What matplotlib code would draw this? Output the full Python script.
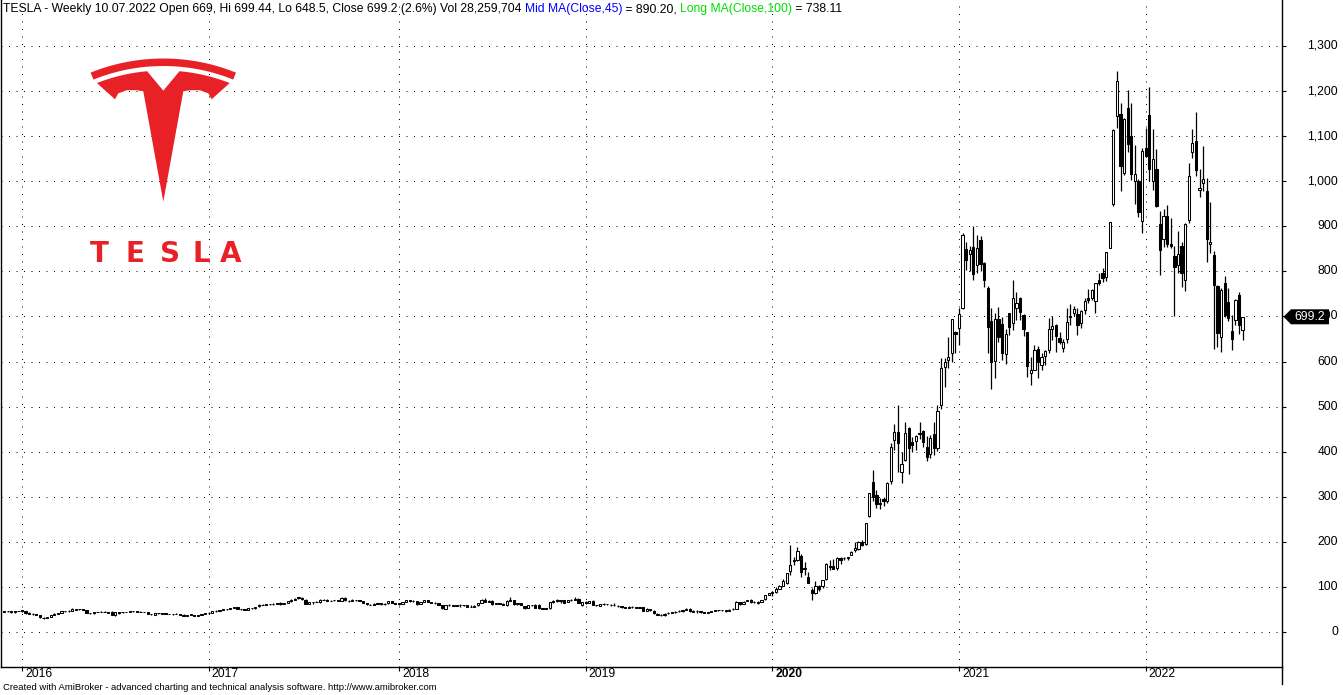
import matplotlib
matplotlib.use('Agg')
import matplotlib.pyplot as plt
import matplotlib.dates as mdates
import matplotlib.transforms as mtransforms
from matplotlib import font_manager
from matplotlib.patches import Polygon
import numpy as np
import pandas as pd

# weekly TSLA bars, dated by week end (Sunday); last bar 10.07.2022
last_bar = '2022-07-10'

opens = [
    # 2015
    44.0, 46.4, 45.8, 43.6, 46.1,
    # 2016
    46.2, 46.1, 42.4, 40.2, 40.5, 37.6, 32.0, 31.2, 33.0, 38.3, 40.0, 41.8, 46.4, 45.8, 47.5, 49.4, 51.0, 50.7,
    48.4, 42.3, 41.6, 44.2, 44.8, 44.0, 43.6, 43.8, 38.0, 42.0, 43.6, 44.0, 44.6, 47.0, 46.0, 44.9, 45.0, 43.8,
    40.0, 38.6, 41.2, 42.6, 42.0, 39.4, 39.4, 40.2, 39.6, 38.4, 36.4, 37.2, 38.6, 36.4, 38.6, 40.4, 42.6,
    # 2017
    43.0, 45.8, 47.6, 49.0, 50.2, 50.4, 54.0, 54.4, 50.8, 50.0, 49.0, 52.4, 52.2, 56.8, 60.4, 61.0, 61.4, 62.8,
    61.8, 64.8, 62.4, 65.2, 68.2, 71.0, 74.6, 76.4, 72.0, 63.2, 65.6, 66.0, 67.0, 71.4, 72.0, 69.6, 70.0, 71.2,
    69.6, 76.2, 69.8, 68.8, 71.4, 71.0, 68.6, 64.0, 60.6, 60.8, 63.6, 63.4, 61.2, 63.4, 69.0, 64.8,
    # 2018
    62.4, 63.2, 67.0, 70.4, 68.2, 68.0, 63.0, 67.2, 70.0, 66.8, 65.0, 63.8, 60.0, 51.0, 59.6, 59.6, 57.8, 59.2,
    59.0, 60.0, 55.4, 56.4, 58.8, 65.2, 71.8, 67.0, 68.4, 62.0, 63.6, 62.6, 59.8, 69.8, 70.2, 61.4, 64.0, 57.4,
    52.8, 59.2, 60.0, 61.0, 52.4, 52.0, 52.2, 66.0, 68.4, 69.0, 70.0, 66.0, 72.0, 71.8, 73.4, 59.2,
    # 2019
    67.6, 64.4, 68.6, 60.0, 58.4, 62.6, 61.2, 61.0, 60.4, 58.4, 57.0, 55.6, 52.8, 56.2, 55.0, 54.0, 54.4, 47.0,
    51.0, 47.4, 40.8, 38.0, 37.2, 41.2, 42.8, 44.6, 46.2, 46.6, 49.4, 51.8, 45.2, 46.2, 46.2, 44.2, 43.0, 45.0,
    46.0, 49.0, 48.2, 48.2, 47.0, 50.0, 51.4, 65.6, 62.8, 69.0, 70.0, 67.4, 65.2, 67.4, 72.2, 82.0,
    # 2020
    85.8, 88.0, 96.4, 101.6, 108.0, 134.7, 158.6, 160.2, 167.8, 142.8, 121.0, 93.8, 86.0, 102.0, 101.0, 118.0,
    146.6, 146.0, 141.0, 163.4, 164.2, 164.4, 171.6, 183.0, 183.6, 199.8, 195.6, 256.4, 332.0, 304.0, 283.0,
    295.6, 290.0, 334.0, 425.0, 444.6, 356.0, 381.9, 453.1, 421.4, 423.4, 442.0, 446.2, 409.9, 394.0, 439.5,
    408.9, 503.5, 587.0, 603.0, 619.0, 666.2,
    # 2021
    674.5, 719.5, 849.4, 837.8, 855.0, 814.3, 869.7, 818.0, 762.6, 690.0, 600.6, 694.1, 684.0, 615.6, 707.7,
    686.0, 719.8, 741.0, 703.8, 664.9, 575.6, 581.6, 627.8, 591.8, 612.2, 624.5, 671.6, 681.0, 653.2, 630.0,
    650.0, 700.0, 708.0, 705.1, 685.4, 714.7, 740.0, 740.2, 734.6, 779.8, 796.5, 787.2, 851.8, 950.5, 1145.0,
    1149.8, 1017.6, 1162.3, 1100.0, 1001.5, 1001.1, 910.7,
    # 2022
    1073.7, 1147.8, 1000.0, 1026.6, 904.8, 872.7, 923.8, 861.6, 834.1, 815.0, 856.0, 780.6, 915.0, 1065.0,
    1089.4, 980.4, 995.0, 979.0, 861.5, 836.5, 767.0, 655.0, 773.8, 733.0, 668.0, 692.0, 748.0, 669.0,
]

highs = [
    # 2015
    46.6, 47.2, 46.2, 46.8, 46.6,
    # 2016
    48.2, 46.5, 43.9, 42.0, 41.0, 38.0, 32.5, 34.0, 38.2, 41.2, 41.9, 47.0, 47.6, 49.4, 53.0, 51.9, 51.6, 50.9,
    48.6, 43.0, 44.4, 45.0, 45.6, 46.0, 44.6, 46.0, 43.6, 44.0, 45.4, 45.2, 47.2, 47.6, 46.4, 45.6, 45.2, 44.0,
    40.8, 41.4, 43.0, 42.8, 42.2, 40.2, 40.4, 42.6, 39.8, 39.8, 37.6, 39.6, 38.8, 38.6, 40.8, 42.8, 44.0,
    # 2017
    46.0, 47.8, 49.2, 51.0, 50.9, 54.0, 56.0, 56.2, 51.4, 50.4, 52.8, 53.0, 56.0, 61.4, 61.6, 61.6, 63.2, 64.6,
    65.2, 65.6, 65.2, 68.4, 72.8, 76.0, 77.4, 77.0, 72.4, 66.0, 67.0, 69.6, 73.2, 73.8, 72.6, 71.0, 71.6, 72.0,
    76.8, 77.4, 70.4, 72.8, 72.0, 72.0, 69.6, 65.2, 61.8, 65.0, 64.0, 63.6, 63.8, 69.0, 69.4, 65.4,
    # 2018
    64.8, 67.6, 70.4, 70.6, 70.0, 68.4, 67.2, 71.0, 71.2, 67.4, 66.0, 64.4, 61.0, 60.2, 62.0, 60.4, 60.2, 61.8,
    61.0, 60.2, 60.8, 58.8, 64.6, 72.8, 74.8, 70.6, 70.0, 64.8, 65.0, 63.8, 70.6, 77.4, 71.0, 65.2, 64.2, 58.0,
    59.8, 60.4, 63.0, 62.4, 53.6, 53.8, 66.4, 70.2, 73.0, 71.0, 70.4, 70.2, 73.0, 77.2, 74.4, 67.6,
    # 2019
    69.0, 69.8, 70.4, 60.8, 63.0, 63.6, 62.0, 61.8, 64.2, 58.8, 58.0, 56.0, 56.6, 57.0, 55.2, 55.4, 54.6, 52.2,
    51.8, 48.0, 41.4, 39.0, 42.0, 45.0, 45.2, 45.8, 48.0, 49.2, 53.4, 52.8, 48.8, 47.8, 46.8, 45.2, 45.2, 46.6,
    49.4, 49.6, 49.2, 48.6, 50.2, 52.4, 68.0, 66.0, 68.0, 70.8, 72.4, 67.8, 67.8, 72.0, 81.6, 87.2,
    # 2020
    90.8, 99.6, 103.6, 118.0, 130.6, 193.8, 165.8, 189.0, 172.2, 154.4, 133.6, 98.4, 114.2, 105.0, 115.8, 153.0,
    160.6, 161.0, 165.6, 166.2, 166.0, 167.2, 180.2, 200.2, 201.2, 203.0, 242.0, 309.2, 359.0, 314.0, 298.0,
    300.4, 333.0, 419.4, 461.0, 502.5, 398.9, 465.0, 455.7, 433.6, 437.9, 465.9, 447.0, 434.8, 436.4, 465.9,
    502.5, 607.0, 607.8, 654.3, 695.0, 668.5,
    # 2021
    718.7, 884.5, 865.0, 856.5, 900.4, 880.5, 877.8, 821.0, 768.5, 719.0, 708.0, 721.8, 699.6, 672.0, 708.2,
    780.8, 753.8, 744.0, 706.0, 665.0, 610.0, 637.0, 633.8, 620.0, 625.5, 697.6, 700.0, 684.0, 666.1, 649.0,
    718.0, 726.9, 722.8, 719.0, 715.0, 740.4, 761.0, 761.8, 774.8, 795.6, 806.8, 843.2, 910.0, 1115.2, 1243.5,
    1174.5, 1140.0, 1201.9, 1172.8, 1081.0, 1005.0, 1073.0,
    # 2022
    1119.0, 1208.0, 1115.6, 1070.8, 933.5, 938.0, 947.8, 918.5, 856.7, 890.0, 866.0, 907.0, 1040.7, 1114.8,
    1152.9, 1026.0, 1078.0, 1008.0, 953.0, 845.6, 769.8, 764.0, 790.0, 763.0, 703.0, 739.0, 755.0, 699.44,
]

lows = [
    # 2015
    43.6, 45.0, 43.2, 42.6, 45.6,
    # 2016
    45.4, 41.0, 40.0, 38.8, 37.2, 31.9, 28.2, 31.0, 32.6, 36.8, 39.2, 41.4, 44.4, 45.4, 47.2, 48.7, 49.6, 47.7,
    41.4, 40.9, 41.0, 43.4, 43.4, 43.6, 42.0, 38.4, 36.4, 41.0, 43.0, 43.6, 44.0, 44.8, 44.9, 43.8, 43.6, 39.2,
    38.8, 38.2, 41.0, 40.4, 39.0, 39.0, 38.8, 39.6, 37.6, 35.6, 36.2, 37.0, 36.0, 36.2, 38.4, 40.2, 42.2,
    # 2017
    42.8, 45.2, 46.6, 48.8, 49.6, 50.2, 53.4, 50.0, 49.0, 48.4, 48.8, 50.8, 51.6, 56.4, 59.6, 59.8, 60.8, 59.4,
    61.6, 60.4, 62.0, 64.6, 67.6, 70.4, 74.0, 72.0, 61.8, 62.0, 63.0, 65.6, 63.8, 70.2, 69.0, 68.6, 69.2, 68.0,
    69.2, 69.8, 66.8, 68.4, 69.2, 68.0, 63.4, 59.4, 59.2, 60.2, 61.6, 60.4, 60.4, 63.0, 64.6, 61.6,
    # 2018
    60.6, 62.4, 66.0, 67.4, 67.2, 60.4, 62.6, 66.6, 66.6, 63.8, 62.6, 60.2, 50.8, 50.4, 58.6, 57.4, 56.6, 56.0,
    58.2, 55.0, 55.0, 55.0, 58.6, 64.8, 66.6, 66.0, 60.6, 61.2, 62.0, 58.8, 57.2, 68.0, 60.2, 60.4, 59.8, 50.4,
    52.4, 58.0, 52.8, 51.4, 50.4, 51.0, 50.0, 65.4, 66.8, 65.4, 64.6, 65.6, 69.0, 71.0, 63.8, 58.6,
    # 2019
    61.6, 63.4, 60.0, 57.6, 58.0, 60.4, 60.4, 58.0, 58.6, 56.0, 54.0, 52.4, 52.2, 53.2, 53.2, 53.4, 46.2, 46.8,
    47.2, 41.0, 37.4, 36.6, 35.4, 40.8, 42.4, 43.0, 45.2, 45.4, 48.8, 45.0, 44.8, 43.2, 43.2, 42.0, 42.4, 44.0,
    45.6, 47.6, 45.8, 45.0, 46.4, 49.6, 50.6, 61.0, 62.6, 68.2, 64.2, 64.2, 63.2, 67.0, 72.0, 81.8,
    # 2020
    80.4, 87.2, 95.8, 101.0, 106.8, 126.0, 149.6, 158.0, 121.6, 126.0, 108.4, 70.1, 84.0, 90.2, 98.0, 116.4,
    138.2, 139.6, 136.6, 150.6, 159.6, 160.0, 170.8, 176.4, 182.6, 190.0, 193.6, 254.0, 290.0, 274.8, 272.6,
    280.6, 285.6, 329.0, 403.6, 356.0, 329.9, 379.0, 351.3, 399.6, 404.4, 428.8, 410.2, 379.1, 385.0, 392.0,
    400.5, 495.0, 543.0, 585.0, 599.0, 618.0,
    # 2021
    636.0, 717.2, 803.6, 801.0, 780.1, 795.6, 801.5, 765.0, 619.0, 539.5, 563.0, 643.0, 602.5, 594.0, 659.2,
    670.0, 691.0, 691.0, 657.2, 566.2, 547.0, 581.0, 563.4, 581.0, 592.0, 620.0, 648.0, 620.5, 637.9, 620.5,
    641.0, 681.0, 701.0, 659.0, 675.0, 706.4, 730.0, 736.8, 708.6, 769.0, 776.5, 778.0, 851.0, 944.2, 1118.0,
    978.6, 1013.5, 1064.0, 1002.0, 950.5, 921.0, 886.1,
    # 2022
    1054.6, 1000.5, 980.0, 943.8, 792.0, 854.0, 854.0, 852.0, 700.0, 796.0, 766.0, 756.0, 907.0, 1052.0,
    1012.5, 965.0, 978.0, 821.7, 841.0, 628.0, 633.0, 620.6, 699.0, 689.0, 626.0, 681.0, 660.0, 648.5,
]

closes = [
    # 2015
    46.3, 46.1, 43.4, 46.1, 46.1,
    # 2016
    48.0, 42.2, 41.0, 40.5, 38.2, 32.5, 30.2, 33.3, 38.1, 40.2, 41.5, 46.5, 45.6, 47.5, 50.0, 50.9, 50.8, 48.2,
    42.3, 41.5, 44.1, 44.6, 43.8, 43.8, 43.1, 38.6, 43.3, 43.4, 44.1, 44.5, 47.0, 46.0, 45.1, 45.0, 44.0, 39.6,
    38.9, 41.1, 42.7, 40.8, 39.3, 39.3, 40.0, 39.8, 38.1, 36.1, 37.0, 39.3, 36.3, 38.4, 40.5, 42.7, 42.7,
    # 2017
    45.8, 47.6, 48.9, 50.6, 50.3, 53.8, 54.4, 51.4, 50.3, 48.7, 52.3, 52.6, 55.7, 60.5, 60.8, 61.1, 62.8, 61.7,
    65.0, 62.2, 65.0, 68.0, 71.5, 74.3, 76.7, 72.3, 62.6, 65.6, 65.7, 67.0, 71.4, 71.6, 69.5, 69.6, 71.1, 68.7,
    76.0, 70.2, 68.2, 71.4, 71.1, 69.0, 64.2, 61.2, 60.6, 63.0, 63.1, 61.4, 63.0, 68.7, 65.0, 62.3,
    # 2018
    63.3, 67.2, 70.0, 68.6, 68.8, 62.1, 67.1, 70.2, 67.0, 65.4, 64.3, 60.3, 53.2, 59.9, 60.1, 58.0, 58.8, 58.8,
    60.2, 55.4, 55.8, 58.4, 63.5, 71.6, 66.7, 68.6, 61.8, 63.8, 62.7, 59.4, 69.6, 71.1, 61.1, 64.6, 60.3, 52.6,
    59.0, 59.8, 53.0, 52.4, 51.8, 52.2, 66.2, 69.3, 70.1, 70.9, 65.2, 70.1, 71.6, 73.1, 64.0, 66.8,
    # 2019
    63.5, 69.5, 60.5, 59.4, 62.4, 61.2, 61.6, 58.9, 59.0, 56.8, 55.1, 52.9, 56.0, 55.0, 53.6, 54.7, 47.0, 51.0,
    47.9, 42.2, 38.1, 37.0, 40.9, 43.0, 44.4, 44.7, 46.6, 49.0, 51.6, 45.6, 46.9, 47.0, 44.0, 42.3, 45.1, 45.9,
    49.0, 48.1, 48.4, 46.3, 49.6, 51.4, 65.6, 62.7, 67.4, 70.4, 66.6, 66.0, 67.2, 71.7, 81.1, 86.1,
    # 2020
    88.6, 95.6, 102.1, 113.0, 130.1, 149.6, 160.0, 180.2, 133.6, 140.7, 109.3, 85.5, 102.9, 96.0, 114.6, 150.8,
    145.0, 140.3, 163.9, 159.8, 163.4, 167.0, 177.1, 187.1, 200.2, 191.9, 241.7, 308.9, 300.1, 283.4, 286.2,
    290.5, 330.1, 410.0, 442.7, 418.3, 372.7, 442.2, 407.3, 415.1, 434.0, 439.7, 420.6, 388.0, 430.0, 408.5,
    489.6, 585.8, 599.0, 610.0, 695.0, 661.8,
    # 2021
    705.7, 880.0, 826.2, 846.6, 793.5, 852.2, 816.1, 781.3, 675.5, 598.0, 693.7, 654.9, 618.7, 661.8, 677.0,
    739.8, 729.4, 709.4, 672.4, 589.7, 580.9, 625.2, 599.1, 609.9, 623.3, 671.9, 678.9, 657.0, 644.2, 643.4,
    687.2, 699.1, 717.2, 680.3, 711.9, 733.6, 736.3, 759.5, 774.4, 775.2, 785.5, 843.0, 909.7, 1114.0, 1222.1,
    1033.4, 1137.1, 1081.9, 1015.0, 1017.0, 932.6, 1067.0,
    # 2022
    1056.8, 1027.0, 1049.6, 943.9, 846.4, 923.3, 860.0, 857.0, 809.9, 838.3, 795.4, 905.4, 1010.6, 1084.6,
    1025.5, 985.0, 1005.1, 870.8, 865.7, 769.6, 663.9, 759.6, 703.6, 696.7, 650.3, 737.1, 681.8, 699.2,
]

title_parts = [
    ('TESLA - Weekly 10.07.2022 Open 669, Hi 699.44, Lo 648.5, Close 699.2 (2.6%) Vol 28,259,704 ', 'black'),
    ('Mid MA(Close,45)', '#0000ff'),
    (' = 890.20, ', 'black'),
    ('Long MA(Close,100)', '#00e000'),
    (' = 738.11', 'black'),
]
footer = 'Created with AmiBroker - advanced charting and technical analysis software. http://www.amibroker.com'
y_ticks = list(range(0, 1400, 100))
last_close = closes[-1]

n = len(closes)
assert len(opens) == n and len(highs) == n and len(lows) == n, (len(opens), len(highs), len(lows), n)

dates = pd.date_range(end=last_bar, periods=n, freq='7D')
x = mdates.date2num(dates)
o = np.array(opens)
h = np.array(highs)
l = np.array(lows)
c = np.array(closes)

avail = {f.name for f in font_manager.fontManager.ttflist}
FONT = 'Liberation Sans Narrow' if 'Liberation Sans Narrow' in avail else 'Liberation Sans'
RED = '#e82127'

W, H = 1343, 695
fig = plt.figure(figsize=(W / 100, H / 100), dpi=100)
fig.patch.set_facecolor('white')

# plot box in pixels
px_left, px_right, px_top, px_bot = 1, 1282, 0, 667
ax = fig.add_axes([px_left / W, (H - px_bot) / H, (px_right - px_left) / W, (px_bot - px_top) / H])

# value -> pixel: y = 632 - 0.4508 * v ; bar i -> pixel: x = 4.05 + 3.59 * i
ppu = 0.4508
ax.set_ylim((632 - px_bot) / ppu, (632 - px_top) / ppu)
i_left = (px_left - 4.05) / 3.59
i_right = (px_right - 4.05) / 3.59
ax.set_xlim(x[0] + 7 * i_left, x[0] + 7 * i_right)

# candles
up = c >= o
ax.vlines(x, l, h, color='black', linewidth=0.9, zorder=2)
ax.bar(x, np.abs(c - o), width=4.4, bottom=np.minimum(o, c),
       color=np.where(up, 'white', 'black'), edgecolor='black', linewidth=0.75, zorder=3)

# year ticks at the first bar of each year
years = dates.year
year_pos = [x[np.argmax(years == y)] for y in range(2016, 2023)]
year_lab = [str(y) for y in range(2016, 2023)]

ax.set_xticks(year_pos)
ax.set_xticklabels([])
ax.set_yticks(y_ticks)
ax.set_yticklabels([])
ax.yaxis.tick_right()
ax.tick_params(axis='both', direction='out', length=3, width=0.8, color='black')
ax.grid(True, color='black', linestyle=(0, (1, 6.5)), linewidth=0.72)
ax.set_axisbelow(True)
ax.spines['top'].set_visible(False)
for s in ['left', 'right', 'bottom']:
    ax.spines[s].set_linewidth(1.0)
    ax.spines[s].set_color('black')

fig.canvas.draw()
renderer = fig.canvas.get_renderer()


def text_w(s, size, weight='normal'):
    fp = font_manager.FontProperties(family=FONT, size=size, weight=weight)
    w1 = renderer.get_text_width_height_descent(s + 'x', fp, False)[0]
    w2 = renderer.get_text_width_height_descent('x', fp, False)[0]
    return w1 - w2


full_title = ''.join(p for p, _ in title_parts)
title_fs = 10 * 834 / text_w(full_title, 10)
footer_fs = 10 * 435 / text_w(footer, 10)
tick_fs = 10 * 27 / text_w('2016', 10)

# title, piece by piece
x0 = 3
for part, col in title_parts:
    fig.text(x0 / W, 1 - 9 / H, part, color=col, fontsize=title_fs, family=FONT, ha='left', va='center')
    x0 += text_w(part, title_fs)

fig.text(3 / W, 1 - 688 / H, footer, color='black', fontsize=footer_fs, family=FONT, ha='left', va='center')

# year labels
xt = mtransforms.blended_transform_factory(ax.transData, ax.transAxes)
for pos, lab in zip(year_pos, year_lab):
    ax.text(pos, 0, lab, transform=mtransforms.offset_copy(xt, fig=fig, x=3, y=-1, units='dots'),
            ha='left', va='top', fontsize=tick_fs, family=FONT,
            fontweight='bold' if lab == '2020' else 'normal', clip_on=False)

# price labels on the right (700 sits under the last-price tag, as in the source)
yt = mtransforms.blended_transform_factory(ax.transAxes, ax.transData)
for v in y_ticks:
    ax.text(1, v, f'{v:,}', transform=mtransforms.offset_copy(yt, fig=fig, x=1338 - px_right, y=0, units='dots'),
            ha='right', va='center', fontsize=tick_fs, family=FONT, clip_on=False)

# overlay in pixel coordinates for logo, last price tag and frame extension
ov = fig.add_axes([0, 0, 1, 1], zorder=5)
ov.set_xlim(0, W)
ov.set_ylim(H, 0)
ov.axis('off')

ov.plot([px_right, px_right], [px_bot, 684], color='black', lw=1.0)

# Tesla "T" emblem
cx, cyc = 163.3, 252.5


def arc(r, a0, a1, k=30):
    a = np.radians(np.linspace(a0, a1, k))
    return np.column_stack([cx + r * np.sin(a), cyc - r * np.cos(a)])


band = np.vstack([arc(194, -22, 22), arc(186.5, 22, -22)])
ov.add_patch(Polygon(band, closed=True, facecolor=RED, edgecolor='none'))

body = np.vstack([
    arc(182, -21.4, -5.1, 15),
    [[cx, 90.7]],
    arc(182, 5.1, 21.4, 15),
    [[2 * cx - 115, 99.3], [2 * cx - 118.3, 93.3], [2 * cx - 126.7, 90.2], [2 * cx - 136.7, 90.2],
     [2 * cx - 143.3, 91.3], [cx, 201.7], [143.3, 91.3], [136.7, 90.2], [126.7, 90.2], [118.3, 93.3],
     [115, 99.3]],
])
ov.add_patch(Polygon(body, closed=True, facecolor=RED, edgecolor='none'))

# wordmark
for ch, cxl in zip('TESLA', [99.2, 135.3, 169.7, 201.7, 231.0]):
    ov.text(cxl, 254.5, ch, color=RED, fontsize=20, family='DejaVu Sans', fontweight='bold',
            ha='center', va='center')

# last price tag
y_disp = ax.transData.transform((x[-1], last_close))[1]
ty = H - y_disp
tag = [[1283.5, ty], [1291, ty - 7.5], [1329, ty - 7.5], [1329, ty + 7.5], [1291, ty + 7.5]]
ov.add_patch(Polygon(tag, closed=True, facecolor='black', edgecolor='none'))
ov.text(1309.5, ty + 0.5, f'{last_close:.1f}', color='white', fontsize=tick_fs, family=FONT,
        ha='center', va='center')

fig.savefig('out.png', dpi=100, facecolor='white')
